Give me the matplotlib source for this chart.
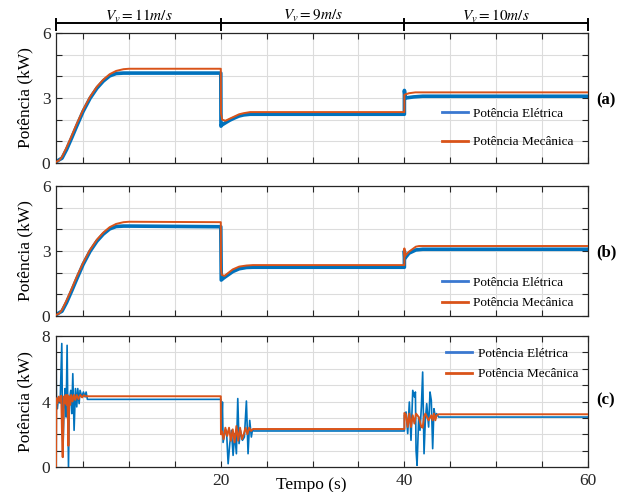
import matplotlib
matplotlib.use('Agg')
import matplotlib.pyplot as plt
import numpy as np

# ---------------------------------------------------------------------------
# Dados (tempo em s, potência em kW)
# ---------------------------------------------------------------------------
# rampa inicial (comum aos painéis a e b)
t_ramp = [2.05, 2.4, 2.7, 3.2, 3.75, 4.3, 5.0, 5.75, 6.5, 7.2, 7.9, 8.6, 9.4, 10.0]
pm_ramp = [0.05, 0.12, 0.28, 0.72, 1.25, 1.8, 2.45, 3.05, 3.52, 3.85, 4.1, 4.25, 4.33, 4.35]
pe_ramp = [0.05, 0.15, 0.22, 0.62, 1.15, 1.7, 2.38, 2.98, 3.45, 3.78, 4.02, 4.13, 4.15, 4.15]

# painel (a)
ta_mec = t_ramp + [20.0, 20.02, 20.15, 20.5, 21.0, 21.5, 22.0, 22.5, 23.2, 40.0, 40.0, 40.5, 41.2, 60.0]
pa_mec = pm_ramp + [4.35, 2.3, 2.0, 1.95, 2.05, 2.15, 2.25, 2.3, 2.35, 2.35, 3.15, 3.22, 3.26, 3.26]
ta_ele = t_ramp + [20.0, 20.02, 20.1, 20.6, 21.0, 21.5, 22.0, 22.5, 23.2, 40.0, 40.0, 40.1, 41.0, 42.0, 60.0]
pa_ele = pe_ramp + [4.15, 1.7, 1.75, 1.88, 1.98, 2.08, 2.17, 2.22, 2.25, 2.25, 3.35, 3.0, 3.05, 3.08, 3.08]

# painel (b)
tb_mec = t_ramp + [20.0, 20.02, 20.1, 20.4, 21.3, 22.0, 22.8, 23.5, 40.0, 40.0, 40.05, 40.5, 41.25, 41.6, 60.0]
pb_mec = pm_ramp + [4.33, 2.2, 1.9, 1.85, 2.15, 2.28, 2.33, 2.35, 2.35, 3.12, 2.77, 2.97, 3.2, 3.23, 3.23]
tb_ele = t_ramp + [20.0, 20.05, 20.3, 21.3, 22.0, 22.8, 23.5, 40.0, 40.0, 40.05, 40.5, 41.25, 42.0, 60.0]
pb_ele = pe_ramp + [4.12, 1.66, 1.75, 2.05, 2.18, 2.24, 2.25, 2.25, 3.0, 2.66, 2.9, 3.05, 3.08, 3.08]

# painel (c)
tc_ele = [2.05, 2.1, 2.2, 2.32, 2.5, 2.68, 2.79, 2.93, 3.04, 3.15,
          3.26, 3.41, 3.51, 3.66, 3.77, 3.88, 4.02, 4.17, 4.31, 4.42,
          4.57, 4.67, 4.86, 5.04, 5.22, 5.33, 5.47,
          20.0, 20.07, 20.18, 20.25, 20.43, 20.62, 20.80, 20.98, 21.16, 21.34,
          21.52, 21.70, 21.85, 21.99, 22.14, 22.36, 22.57, 22.79, 22.97, 23.15,
          23.33, 23.44, 23.59,
          40.0, 40.0, 40.18, 40.36, 40.54, 40.72, 40.91, 41.09, 41.20, 41.27, 41.38,
          41.56, 41.70, 41.85, 41.99, 42.14, 42.28, 42.43, 42.64, 42.79, 42.93,
          43.08, 43.22, 43.37, 43.51, 43.73, 60.0]
pc_ele = [7.84, 3.67, 3.56, 4.28, 3.9, 7.54, 0.61, 3.67, 4.79, 3.05,
          7.43, 0.0, 4.07, 4.68, 3.26, 5.70, 2.24, 4.79, 3.67, 4.79,
          3.87, 4.68, 4.28, 4.58, 4.28, 4.58, 4.13,
          4.13, 2.04, 3.97, 1.5, 2.04, 2.24, 0.2, 1.43, 2.24, 0.71,
          2.04, 0.81, 4.18, 1.43, 2.24, 1.63, 1.83, 4.03, 0.81, 2.85,
          1.83, 2.24, 2.2,
          2.2, 3.16, 3.36, 2.04, 3.97, 1.63, 4.68, 4.28, 4.58, 1.02, 0.1,
          3.05, 2.24, 3.67, 5.8, 0.81, 2.85, 3.87, 2.44, 4.58, 4.07,
          1.12, 3.56, 3.05, 3.26, 3.05, 3.05]
tc_mec = [2.05, 2.1, 2.2, 2.35, 2.5, 2.62, 2.7, 2.78, 2.9, 3.0,
          3.1, 3.2, 3.3, 3.4, 3.5, 3.6, 3.7, 3.85, 4.0, 4.15,
          4.3, 4.5, 4.7, 4.9, 5.1, 5.3,
          20.0, 20.02, 20.1, 20.3, 20.5, 20.7, 20.9, 21.1, 21.3, 21.5,
          21.7, 21.9, 22.1, 22.3, 22.5, 22.7, 22.9, 23.1, 23.3, 23.5,
          40.0, 40.0, 40.18, 40.36, 40.54, 40.72, 40.91, 41.09, 41.27, 41.56,
          41.85, 41.99, 42.14, 42.28, 42.64, 42.93, 43.08, 43.22, 43.37, 43.51,
          43.73, 60.0]
pc_mec = [0.0, 4.2, 3.9, 4.3, 4.0, 4.35, 2.2, 0.6, 4.3, 3.9,
          4.4, 3.8, 4.4, 1.3, 4.3, 3.8, 4.4, 4.0, 4.4, 4.1,
          4.4, 4.15, 4.4, 4.25, 4.38, 4.32,
          4.32, 2.0, 2.2, 1.7, 2.4, 1.9, 2.4, 1.6, 2.3, 1.5,
          2.5, 1.6, 2.4, 1.7, 2.0, 2.4, 2.0, 2.4, 2.2, 2.32,
          2.32, 3.3, 3.2, 2.44, 3.26, 2.44, 3.16, 2.65, 3.26, 3.05,
          2.44, 2.4, 3.05, 3.26, 2.85, 3.16, 2.85, 3.26, 2.85, 3.16,
          3.22, 3.22]

regions = ['$V_v = 11m/s$', '$V_v = 9m/s$', '$V_v = 10m/s$']
region_bounds = [2.05, 20, 40, 60]
panel_tags = ['(a)', '(b)', '(c)']

# ---------------------------------------------------------------------------
# Estilo
# ---------------------------------------------------------------------------
BLUE = '#0072BD'
ORANGE = '#D95319'
LEG_BLUE = '#3a78d0'
GRID = '#dcdcdc'
AXC = '#262626'

plt.rcParams['font.family'] = ['Liberation Serif', 'DejaVu Serif']
plt.rcParams['mathtext.fontset'] = 'stix'

fig = plt.figure(figsize=(6.17, 4.92), dpi=100)
fig.patch.set_facecolor('white')

left, width = 56 / 617, 532 / 617
ax_a = fig.add_axes([left, 1 - 163 / 492, width, 130 / 492])
ax_b = fig.add_axes([left, 1 - 316 / 492, width, 130 / 492])
ax_c = fig.add_axes([left, 1 - 467 / 492, width, 131 / 492])


def style_axes(ax, ymax, ystep_label):
    ax.set_xlim(2.05, 60)
    ax.set_ylim(0, ymax)
    ax.set_xticks(np.arange(5, 61, 5))
    ax.set_yticks(np.arange(0, ymax + 1, 1))
    ax.set_yticklabels([str(v) if v % ystep_label == 0 else '' for v in range(0, ymax + 1)])
    ax.set_xticklabels([])
    ax.grid(True, color=GRID, linewidth=0.8)
    ax.set_axisbelow(True)
    ax.tick_params(direction='in', length=4, width=0.8, colors=AXC,
                   top=True, right=True, labelsize=12.5, pad=4)
    for s in ax.spines.values():
        s.set_color(AXC)
        s.set_linewidth(0.9)
    ax.set_ylabel('Potência (kW)', fontsize=12.5, color='black', labelpad=6)


# painel (a)
ax_a.plot(ta_ele, pa_ele, color=BLUE, linewidth=2.6, label='Potência Elétrica', zorder=2)
ax_a.plot(ta_mec, pa_mec, color=ORANGE, linewidth=1.4, label='Potência Mecânica', zorder=3)
style_axes(ax_a, 6, 3)

# painel (b)
ax_b.plot(tb_ele, pb_ele, color=BLUE, linewidth=2.6, label='Potência Elétrica', zorder=2)
ax_b.plot(tb_mec, pb_mec, color=ORANGE, linewidth=1.4, label='Potência Mecânica', zorder=3)
style_axes(ax_b, 6, 3)

# painel (c)
ax_c.plot(tc_ele, pc_ele, color=BLUE, linewidth=1.2, label='Potência Elétrica', zorder=2)
ax_c.plot(tc_mec, pc_mec, color=ORANGE, linewidth=1.4, label='Potência Mecânica', zorder=3)
style_axes(ax_c, 8, 4)
ax_c.set_xticklabels(['20' if v == 20 else '40' if v == 40 else '60' if v == 60 else ''
                      for v in range(5, 61, 5)])

# legendas
for ax, anchor, spacing in [(ax_a, (0.725, 0.27), 1.25),
                            (ax_b, (0.725, 0.177), 0.6),
                            (ax_c, (0.733, 0.786), 0.6)]:
    leg = ax.legend(loc='center left', bbox_to_anchor=anchor, frameon=False,
                    fontsize=9.5, handlelength=2.0, handletextpad=0.4,
                    labelspacing=spacing, borderpad=0, borderaxespad=0)
    for line, col in zip(leg.get_lines(), [LEG_BLUE, ORANGE]):
        line.set_linewidth(2.0)
        line.set_color(col)

# chave superior com as velocidades do vento
trans = ax_a.get_xaxis_transform()
ax_a.plot([region_bounds[0], region_bounds[-1]], [1.077, 1.077], color='black',
          linewidth=1.4, transform=trans, clip_on=False)
for xb in region_bounds:
    ax_a.plot([xb, xb], [1.023, 1.108], color='black', linewidth=1.4,
              transform=trans, clip_on=False)
for i, txt in enumerate(regions):
    xc = (region_bounds[i] + region_bounds[i + 1]) / 2
    ax_a.text(xc, 1.13, txt, transform=trans, ha='center', va='center',
              fontsize=11)

# rótulos (a), (b), (c)
for txt, yf in zip(panel_tags, [1 - 100 / 492, 1 - 252 / 492, 1 - 400 / 492]):
    fig.text(606 / 617, yf, txt, ha='center', va='center', fontsize=12,
             fontweight='bold')

fig.text(311 / 617, 1 - 477 / 492, 'Tempo (s)', ha='center', va='top', fontsize=12.5)

fig.savefig('out.png', dpi=100, facecolor='white')
